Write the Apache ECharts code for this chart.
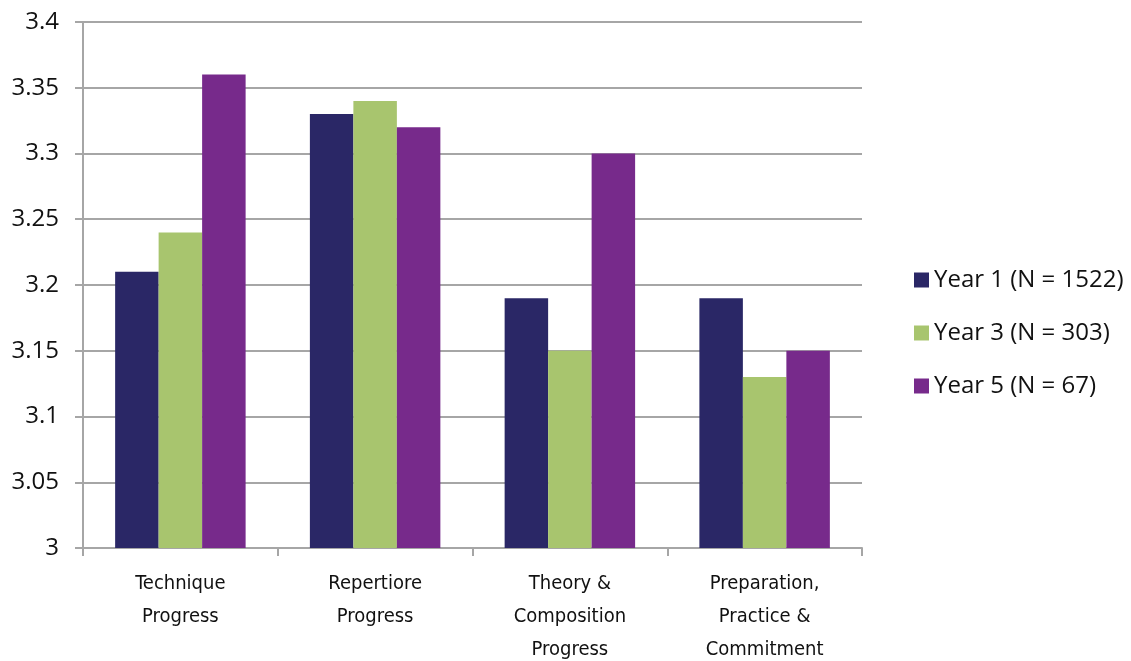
<!DOCTYPE html>
<html>
<head>
<meta charset="utf-8">
<script src="https://cdn.jsdelivr.net/npm/echarts@6/dist/echarts.min.js"></script>
<style>
  html, body { margin: 0; padding: 0; background: #fff; }
  #chart { width: 1131px; height: 661px; }
</style>
</head>
<body>
<div id="chart"></div>
<script>
const categories = [
  'Technique\nProgress',
  'Repertiore\nProgress',
  'Theory &\nComposition\nProgress',
  'Preparation,\nPractice &\nCommitment'
];
const seriesNames = ['Year 1 (N = 1522)', 'Year 3 (N = 303)', 'Year 5 (N = 67)'];
const year1 = [3.21, 3.33, 3.19, 3.19];
const year3 = [3.24, 3.34, 3.15, 3.13];
const year5 = [3.36, 3.32, 3.30, 3.15];
const colors = ['#2A2766', '#A8C56E', '#772A8B'];

const axisGrey = '#A6A6A6';
const chart = echarts.init(document.getElementById('chart'));

const makeBar = (name, data, color) => ({
  name,
  type: 'bar',
  data,
  barGap: '0%',
  barCategoryGap: '33%',
  itemStyle: { color },
  emphasis: { disabled: true }
});

chart.setOption({
  animation: false,
  grid: { left: 83, right: 269, top: 22, bottom: 113, containLabel: false, outerBoundsMode: 'none' },
  legend: {
    orient: 'vertical',
    left: 909,
    top: 263,
    itemWidth: 15,
    itemHeight: 15,
    itemGap: 29,
    icon: 'rect',
    textStyle: { fontSize: 24, color: '#111', fontFamily: 'Open Sans, DejaVu Sans, sans-serif' },
    data: seriesNames
  },
  xAxis: {
    type: 'category',
    data: categories,
    axisLine: { lineStyle: { color: axisGrey, width: 2 } },
    axisTick: { show: true, length: 8, alignWithLabel: false, lineStyle: { color: axisGrey, width: 2 } },
    axisLabel: {
      fontSize: 20,
      lineHeight: 33,
      color: '#111',
      margin: 19,
      interval: 0,
      fontFamily: 'DejaVu Sans Condensed, Liberation Sans Narrow, sans-serif'
    }
  },
  yAxis: {
    type: 'value',
    min: 3,
    max: 3.4,
    interval: 0.05,
    axisLine: { show: true, lineStyle: { color: axisGrey, width: 2 } },
    axisTick: { show: true, length: 8, lineStyle: { color: axisGrey, width: 2 } },
    splitLine: { lineStyle: { color: axisGrey, width: 2 } },
    axisLabel: {
      fontSize: 24,
      color: '#111',
      margin: 24,
      fontFamily: 'Open Sans, DejaVu Sans, sans-serif',
      formatter: v => String(parseFloat(v.toFixed(2)))
    }
  },
  series: [
    makeBar(seriesNames[0], year1, colors[0]),
    makeBar(seriesNames[1], year3, colors[1]),
    makeBar(seriesNames[2], year5, colors[2])
  ]
});
</script>
</body>
</html>
